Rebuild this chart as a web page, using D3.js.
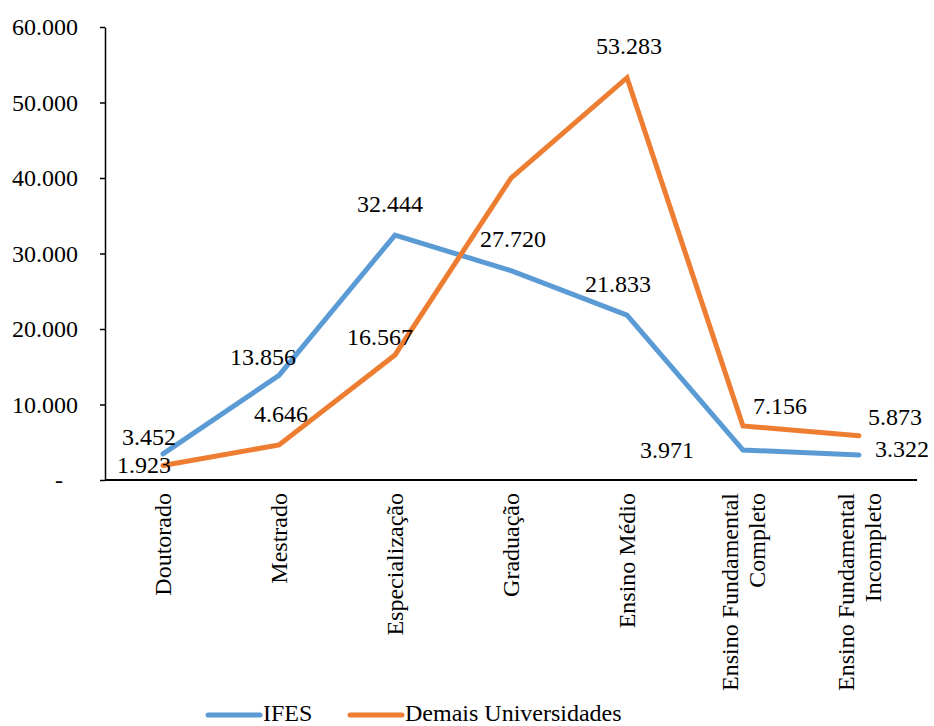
<!DOCTYPE html>
<html lang="pt">
<head>
<meta charset="utf-8">
<title>IFES x Demais Universidades</title>
<script src="https://d3js.org/d3.v7.min.js"></script>
<style>
    body { margin: 0; background: #fff; }
    svg { display: block; }
    svg text { font-family: "Liberation Serif", "Times New Roman", "DejaVu Serif", serif; font-size: 24px; fill: #000; }
    .domain { stroke: #000; stroke-width: 1.5px; }
    .tick line { stroke: #000; stroke-width: 1.5px; }
</style>
</head>
<body>
<script>

// data
const categories = ["Doutorado", "Mestrado", "Especialização", "Graduação",
                    "Ensino Médio", "Ensino Fundamental Completo", "Ensino Fundamental Incompleto"];
const ifes   = [3452, 13856, 32444, 27720, 21833, 3971, 3322];
const demais = [1923, 4646, 16567, 39980, 53283, 7156, 5873];
const yTicks = [0, 10000, 20000, 30000, 40000, 50000, 60000];

// which points carry a value label (Graduação of Demais has none in the original)
const ifesShow   = [true, true, true, true, true, true, true];
const demaisShow = [true, true, true, false, true, true, true];

// label offsets from the point (text centre x, baseline y)
const ifesLabelOff   = [[-14, -9], [-16, -10], [-5, -23], [2, -24], [-9, -23], [-76, 8], [43, 2]];
const demaisLabelOff = [[-19, 8], [2, -23], [-15, -10], [0, 0], [2, -24], [37, -12], [36, -11]];

const W = 934, H = 726;
const plotL = 105, plotR = 917, plotT = 27, plotB = 480;

const svg = d3.select("body").append("svg")
    .attr("width", W)
    .attr("height", H)
    .attr("font-family", "Liberation Serif, serif");

const x = d3.scaleBand()
    .domain(categories)
    .range([plotL, plotR]);

const y = d3.scaleLinear()
    .domain([0, 60000])
    .range([plotB, plotT]);

const cx = c => x(c) + x.bandwidth() / 2;

const fmt = d => d === 0 ? "-" : d3.format(",")(d).replace(/,/g, ".");

// y axis
const yAxis = svg.append("g")
    .attr("transform", "translate(" + plotL + ",0)")
    .call(d3.axisLeft(y).tickValues(yTicks).tickSize(5).tickPadding(22).tickFormat(fmt).tickSizeOuter(0));
yAxis.attr("font-family", null).attr("font-size", null);
yAxis.selectAll("text")
    .attr("dx", d => d === 0 ? -15 : 0)
    .attr("dy", "0.32em");

// x axis line only
svg.append("line")
    .attr("x1", plotL).attr("x2", plotR)
    .attr("y1", plotB).attr("y2", plotB)
    .attr("stroke", "#000").attr("stroke-width", 2);

// category labels, rotated
const catG = svg.append("g")
    .selectAll("g")
    .data(categories)
    .join("g")
    .attr("transform", d => "translate(" + cx(d) + "," + (plotB + 13) + ") rotate(-90)");

catG.each(function(d) {
    const g = d3.select(this);
    // wrap into lines of max ~200px
    const words = d.split(" ");
    let lines = [], cur = [];
    const probe = g.append("text");
    words.forEach(w => {
        const test = cur.concat([w]).join(" ");
        probe.text(test);
        if (probe.node().getComputedTextLength() > 210 && cur.length) {
            lines.push(cur.join(" "));
            cur = [w];
        } else {
            cur.push(w);
        }
    });
    lines.push(cur.join(" "));
    probe.remove();
    const lh = 27;
    lines.forEach((ln, i) => {
        g.append("text")
            .attr("text-anchor", "end")
            .attr("x", 0)
            .attr("y", (i - (lines.length - 1) / 2) * lh)
            .attr("dy", "0.35em")
            .text(ln);
    });
});

// lines
const series = [
    { name: "IFES", values: ifes, color: "#5B9BD5", show: ifesShow, off: ifesLabelOff },
    { name: "Demais Universidades", values: demais, color: "#ED7D31", show: demaisShow, off: demaisLabelOff }
];

const line = d3.line()
    .x((d, i) => cx(categories[i]))
    .y(d => y(d));

series.forEach(s => {
    svg.append("path")
        .datum(s.values)
        .attr("fill", "none")
        .attr("stroke", s.color)
        .attr("stroke-width", 5)
        .attr("stroke-linejoin", "miter")
        .attr("stroke-linecap", "round")
        .attr("d", line);
});

// value labels
series.forEach(s => {
    svg.append("g")
        .selectAll("text")
        .data(s.values.map((v, i) => ({ v: v, i: i })).filter(d => s.show[d.i]))
        .join("text")
        .attr("text-anchor", "middle")
        .attr("x", d => cx(categories[d.i]) + s.off[d.i][0])
        .attr("y", d => y(d.v) + s.off[d.i][1])
        .text(d => fmt(d.v));
});

// legend
const legend = svg.append("g");
const legX = [208, 350];
const legY = 713;
series.forEach((s, i) => {
    legend.append("line")
        .attr("x1", legX[i]).attr("x2", legX[i] + 52)
        .attr("y1", legY + 2).attr("y2", legY + 2)
        .attr("stroke", s.color)
        .attr("stroke-width", 5)
        .attr("stroke-linecap", "round");
    legend.append("text")
        .attr("x", legX[i] + 55)
        .attr("y", legY)
        .attr("dy", "0.35em")
        .text(s.name);
});

</script>
</body>
</html>
